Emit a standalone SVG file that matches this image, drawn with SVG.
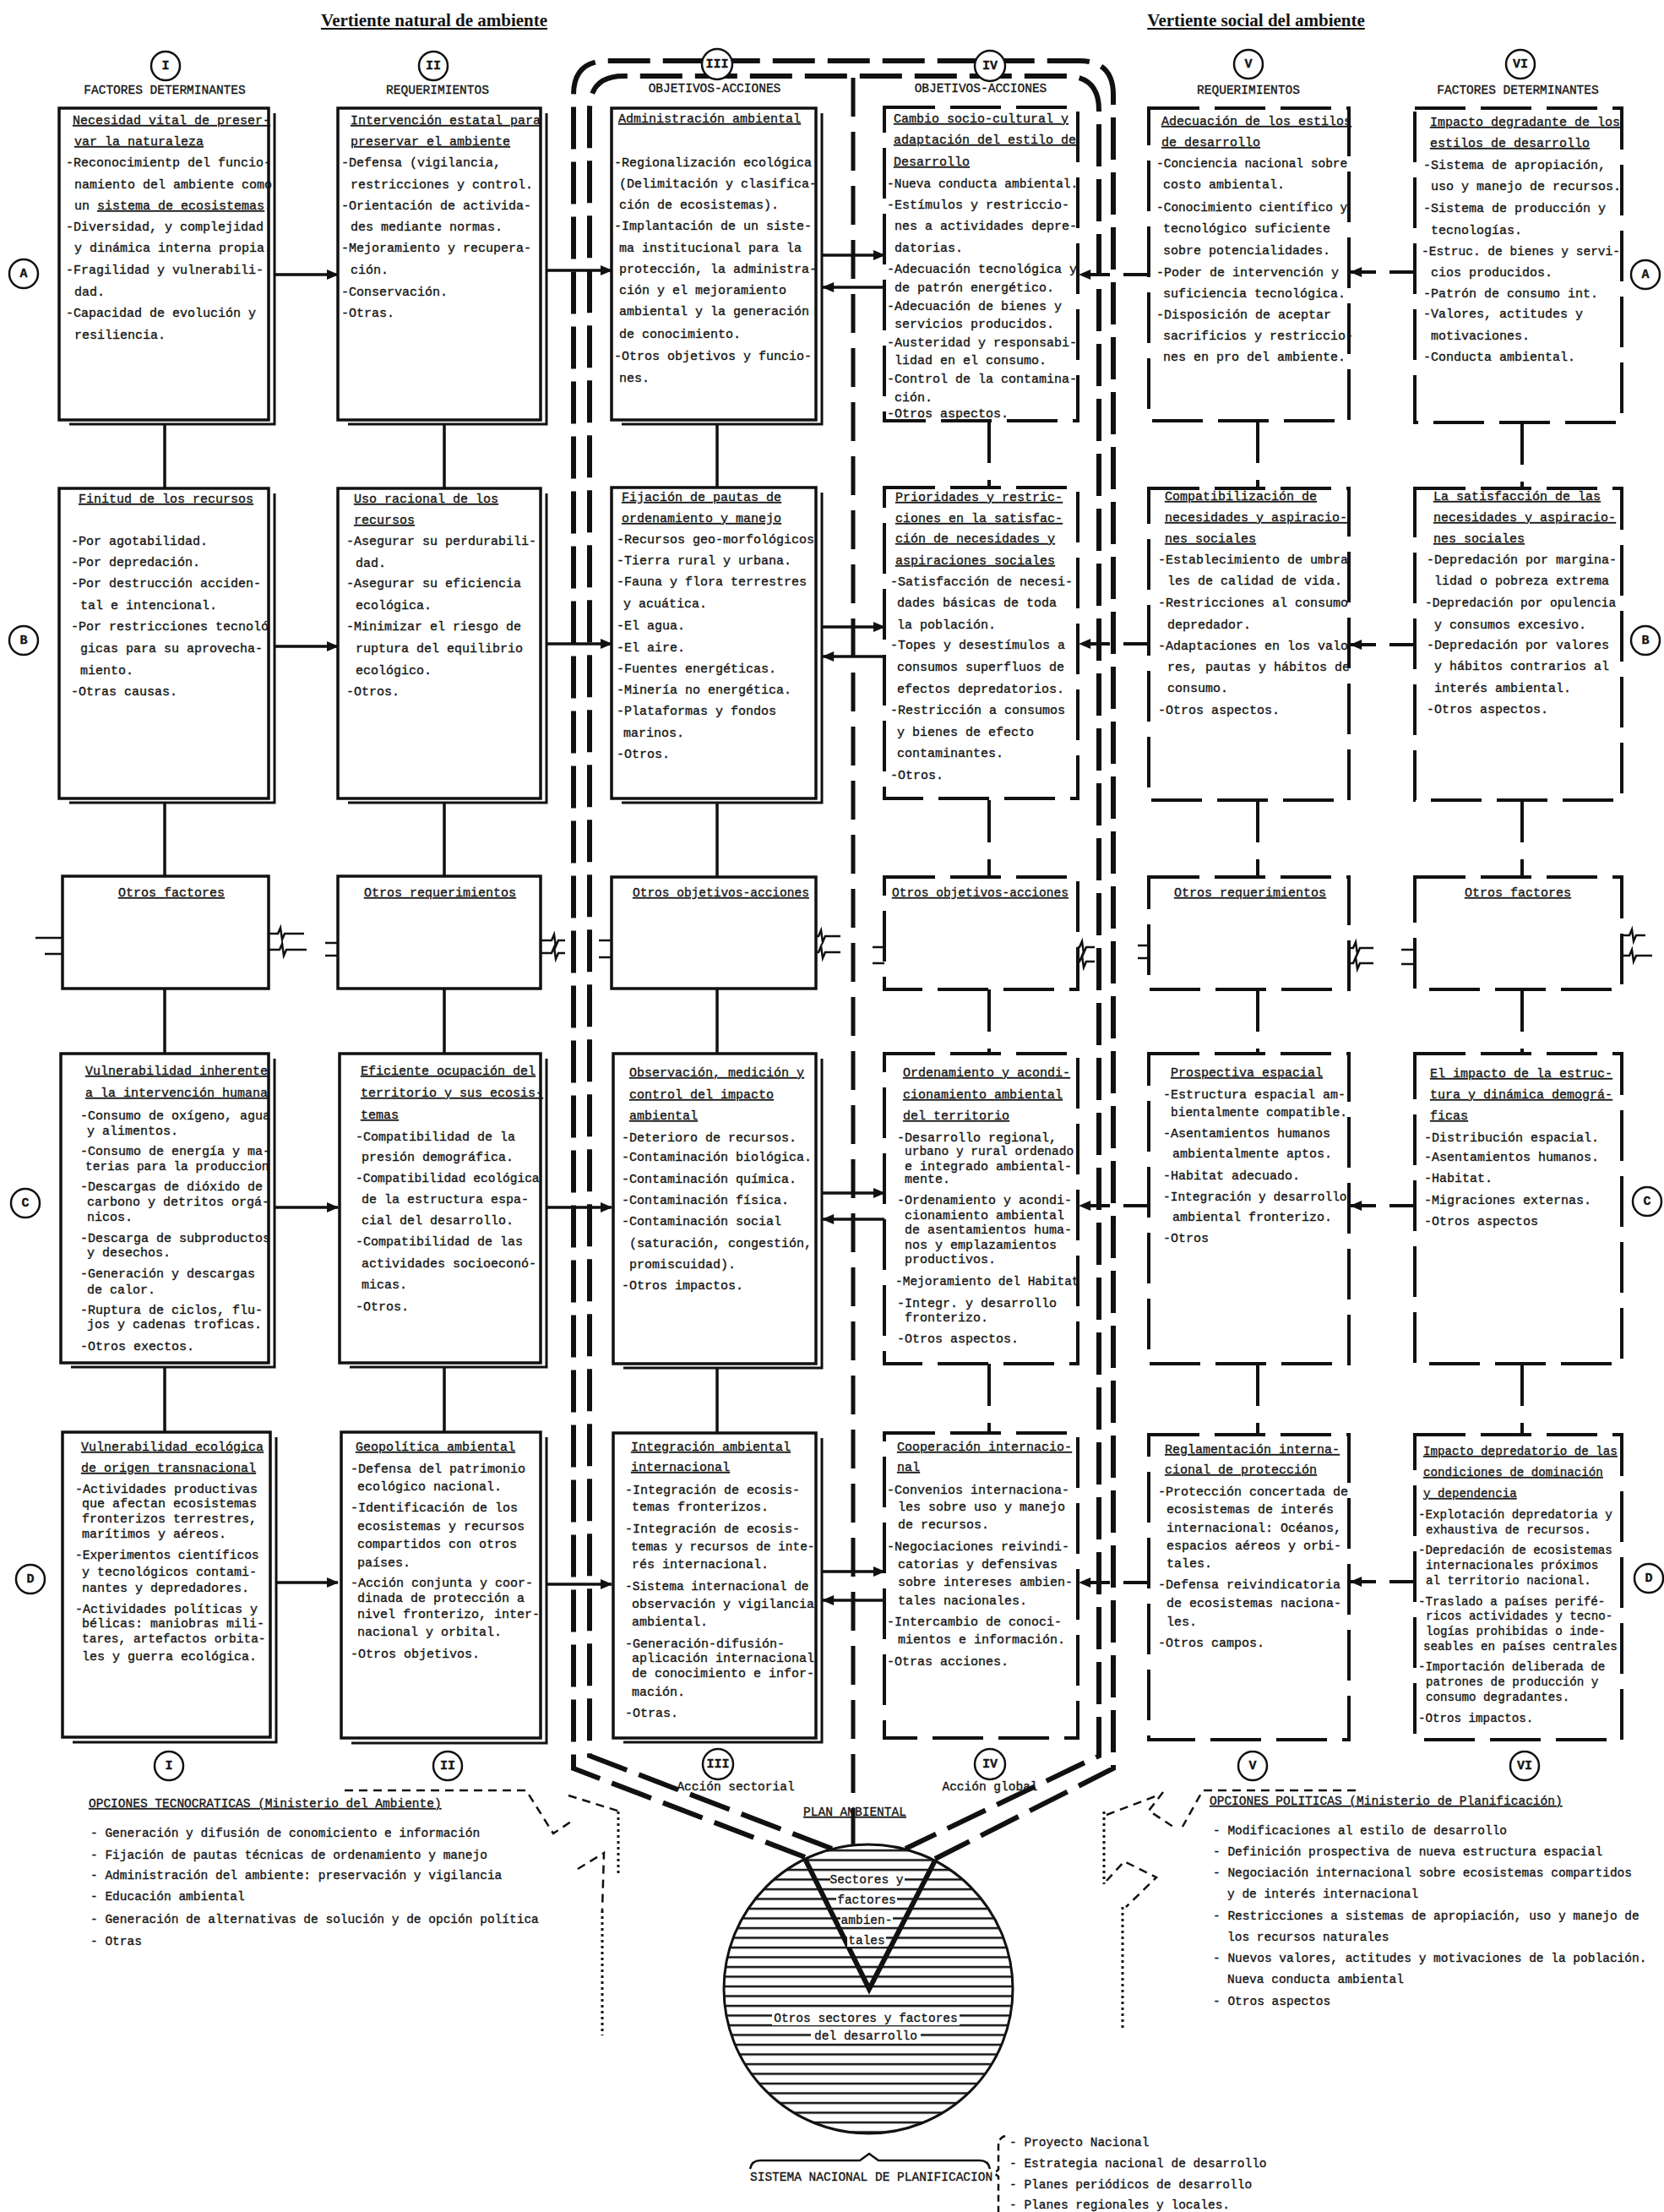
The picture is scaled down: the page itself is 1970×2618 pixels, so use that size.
<svg xmlns="http://www.w3.org/2000/svg" width="1970" height="2618" viewBox="0 0 1970 2618">
<style>
text{font-family:"Liberation Mono","DejaVu Sans Mono",monospace;font-size:15px;fill:#141414;stroke:#141414;stroke-width:0.35px}
.ttl{font-family:"Liberation Serif",serif;font-weight:bold;font-size:21px;text-anchor:middle;text-decoration:underline;text-decoration-thickness:2px;text-underline-offset:4px;stroke-width:0}
.u{text-decoration:underline;text-decoration-thickness:2px;text-underline-offset:3px}
.c{text-anchor:middle}
.s{font-size:14.2px}
.o{font-size:14.5px}
.rn{font-weight:bold;font-size:15px;text-anchor:middle;dominant-baseline:central}
.bx{fill:#fff;stroke:#111;stroke-width:3.5}
.bd{fill:#fff;stroke:#111;stroke-width:4;stroke-dasharray:60 18}
.sh{fill:none;stroke:#111;stroke-width:3}
.cir{fill:#fff;stroke:#111;stroke-width:2.5}
.ln{stroke:#111;stroke-width:3.5;fill:none}
.ld{stroke:#111;stroke-width:4;fill:none;stroke-dasharray:30 16}
.vd{stroke:#111;stroke-width:4;fill:none;stroke-dasharray:50 20}
.fr{stroke:#111;stroke-width:6;fill:none;stroke-dasharray:50 15}
.mid{stroke:#111;stroke-width:5;fill:none;stroke-dasharray:46 18}
.brk{stroke:#111;stroke-width:2.5;fill:none}
.opt{fill:none;stroke:#111;stroke-width:2.5;stroke-dasharray:10 7}
.dot{fill:none;stroke:#111;stroke-width:3;stroke-dasharray:3 4}
.wb{fill:#fff}
</style>
<defs>
<marker id="ar" viewBox="0 0 12 10" refX="11" refY="5" markerWidth="15" markerHeight="12" markerUnits="userSpaceOnUse" orient="auto"><path d="M0,0 L12,5 L0,10 z" fill="#111"/></marker>
<pattern id="hatch" patternUnits="userSpaceOnUse" width="20" height="11.5"><line x1="0" y1="5" x2="20" y2="5" stroke="#111" stroke-width="2.5"/></pattern>
</defs>
<rect width="1970" height="2618" fill="#fff"/>

<g id="titles">
<text class="ttl" x="514" y="31">Vertiente natural de ambiente</text>
<text class="ttl" x="1487" y="31">Vertiente social del ambiente</text>
</g>

<g id="connectors">
<path class="fr" d="M953,2198 L679,2093 V112 Q679,72 719,72 H1278 Q1318,72 1318,112 V2093 L1107,2200"/>
<path class="fr" d="M985,2188 L698,2078 V130 Q698,90 738,90 H1261 Q1301,90 1301,130 V2078 L1072,2188"/>
<path class="mid" d="M1010,92 V2184"/>
<path class="ln" d="M195,502 V578 M195,950 V1037 M195,1170 V1247 M195,1618 V1696"/>
<path class="ln" d="M526,502 V578 M526,950 V1037 M526,1170 V1247 M526,1618 V1696"/>
<path class="ln" d="M849,502 V578 M849,950 V1037 M849,1170 V1247 M849,1618 V1696"/>
<path class="vd" d="M1171,498 V577 M1171,947 V1038 M1171,1171 V1247 M1171,1614 V1698"/>
<path class="vd" d="M1489,498 V578 M1489,947 V1038 M1489,1171 V1247 M1489,1614 V1698"/>
<path class="vd" d="M1802,500 V578 M1802,947 V1038 M1802,1171 V1247 M1802,1614 V1698"/>
<line class="ln" x1="326" y1="325" x2="400" y2="325" marker-end="url(#ar)"/>
<line class="ln" x1="647" y1="320" x2="724" y2="320" marker-end="url(#ar)"/>
<line class="ln" x1="972" y1="302" x2="1047" y2="302" marker-end="url(#ar)"/>
<line class="ln" x1="1047" y1="340" x2="974" y2="340" marker-end="url(#ar)"/>
<line class="ld" x1="1360" y1="325" x2="1278" y2="325" marker-end="url(#ar)"/>
<line class="ld" x1="1675" y1="322" x2="1599" y2="322" marker-end="url(#ar)"/>
<line class="ln" x1="326" y1="765" x2="400" y2="765" marker-end="url(#ar)"/>
<line class="ln" x1="647" y1="762" x2="724" y2="762" marker-end="url(#ar)"/>
<line class="ln" x1="972" y1="742" x2="1047" y2="742" marker-end="url(#ar)"/>
<line class="ln" x1="1047" y1="777" x2="974" y2="777" marker-end="url(#ar)"/>
<line class="ld" x1="1360" y1="762" x2="1278" y2="762" marker-end="url(#ar)"/>
<line class="ld" x1="1675" y1="763" x2="1599" y2="763" marker-end="url(#ar)"/>
<line class="ln" x1="326" y1="1429" x2="400" y2="1429" marker-end="url(#ar)"/>
<line class="ln" x1="647" y1="1429" x2="724" y2="1429" marker-end="url(#ar)"/>
<line class="ln" x1="972" y1="1412" x2="1047" y2="1412" marker-end="url(#ar)"/>
<line class="ln" x1="1047" y1="1443" x2="974" y2="1443" marker-end="url(#ar)"/>
<line class="ld" x1="1360" y1="1427" x2="1278" y2="1427" marker-end="url(#ar)"/>
<line class="ld" x1="1675" y1="1427" x2="1599" y2="1427" marker-end="url(#ar)"/>
<line class="ln" x1="326" y1="1873" x2="400" y2="1873" marker-end="url(#ar)"/>
<line class="ln" x1="647" y1="1875" x2="724" y2="1875" marker-end="url(#ar)"/>
<line class="ln" x1="972" y1="1860" x2="1047" y2="1860" marker-end="url(#ar)"/>
<line class="ln" x1="1047" y1="1894" x2="974" y2="1894" marker-end="url(#ar)"/>
<line class="ld" x1="1360" y1="1873" x2="1278" y2="1873" marker-end="url(#ar)"/>
<line class="ld" x1="1675" y1="1872" x2="1599" y2="1872" marker-end="url(#ar)"/>
<path class="brk" d="M42,1110 H83 l3,-7 l2,14 l3,-7 H118 M53,1129 H85 l3,-7 l2,14 l3,-7 H112"/>
<path class="brk" d="M299,1105 H329 l3,-7 l2,14 l3,-7 H360 M303,1124 H331 l3,-7 l2,14 l3,-7 H363"/>
<path class="brk" d="M385,1116 H412 l3,-7 l2,14 l3,-7 H436 M385,1131 H412 l3,-7 l2,14 l3,-7 H436"/>
<path class="brk" d="M623,1113 H653 l3,-7 l2,14 l3,-7 H669 M623,1128 H653 l3,-7 l2,14 l3,-7 H669"/>
<path class="brk" d="M709,1113 H733 l3,-7 l2,14 l3,-7 H762 M709,1133 H733 l3,-7 l2,14 l3,-7 H762"/>
<path class="brk" d="M953,1108 H969 l3,-7 l2,14 l3,-7 H995 M953,1127 H969 l3,-7 l2,14 l3,-7 H995"/>
<path class="brk" d="M1033,1121 H1057 l3,-7 l2,14 l3,-7 H1081 M1033,1140 H1057 l3,-7 l2,14 l3,-7 H1081"/>
<path class="brk" d="M1262,1121 H1278 l3,-7 l2,14 l3,-7 H1296 M1262,1138 H1278 l3,-7 l2,14 l3,-7 H1296"/>
<path class="brk" d="M1347,1119 H1369 l3,-7 l2,14 l3,-7 H1392 M1347,1134 H1369 l3,-7 l2,14 l3,-7 H1392"/>
<path class="brk" d="M1579,1122 H1602 l3,-7 l2,14 l3,-7 H1626 M1579,1140 H1602 l3,-7 l2,14 l3,-7 H1626"/>
<path class="brk" d="M1659,1124 H1682 l3,-7 l2,14 l3,-7 H1704 M1659,1141 H1682 l3,-7 l2,14 l3,-7 H1704"/>
<path class="brk" d="M1903,1107 H1929 l3,-7 l2,14 l3,-7 H1948 M1908,1131 H1929 l3,-7 l2,14 l3,-7 H1956"/>
<path class="opt" d="M408,2119 H623 L655,2170 L676,2156"/>
<path class="opt" d="M673,2125 L734,2144"/>
<path class="dot" d="M732,2144 V2218"/>
<path class="opt" d="M684,2212 L715,2193 L713,2261"/>
<path class="dot" d="M713,2261 V2409"/>
<path class="opt" d="M1605,2119 H1424 L1400,2162"/>
<path class="opt" d="M1377,2121 L1360,2143 L1392,2164"/>
<path class="opt" d="M1310,2148 L1373,2124"/>
<path class="opt" d="M1310,2226 L1331,2203 L1369,2222 L1333,2257"/>
<path class="dot" d="M1307,2144 V2230"/>
<path class="dot" d="M1329,2257 V2400"/>
<path class="brk" d="M888,2567 Q890,2557 900,2557 H1018 L1029,2549 L1040,2557 H1160 Q1170,2557 1172,2567"/>
<path class="opt" d="M1190,2528 Q1182,2530 1182,2540 V2568 L1177,2572 L1182,2576 V2618" style="stroke-dasharray:8 5"/>
</g>

<g id="labels">
<circle class="cir" cx="196" cy="78" r="17"/><text class="rn" x="196" y="78">I</text>
<circle class="cir" cx="513" cy="78" r="17"/><text class="rn" x="513" y="78">II</text>
<circle class="cir" cx="849" cy="76" r="18"/><text class="rn" x="849" y="76">III</text>
<circle class="cir" cx="1172" cy="78" r="18"/><text class="rn" x="1172" y="78">IV</text>
<circle class="cir" cx="1478" cy="76" r="17"/><text class="rn" x="1478" y="76">V</text>
<circle class="cir" cx="1800" cy="76" r="17"/><text class="rn" x="1800" y="76">VI</text>
<text class="c o" x="195" y="111">FACTORES DETERMINANTES</text>
<text class="c o" x="518" y="111">REQUERIMIENTOS</text>
<text class="c o" x="846" y="109">OBJETIVOS-ACCIONES</text>
<text class="c o" x="1161" y="109">OBJETIVOS-ACCIONES</text>
<text class="c o" x="1478" y="111">REQUERIMIENTOS</text>
<text class="c o" x="1797" y="111">FACTORES DETERMINANTES</text>
<circle class="cir" cx="28" cy="324" r="17"/><text class="rn" x="28" y="324">A</text>
<circle class="cir" cx="28" cy="758" r="17"/><text class="rn" x="28" y="758">B</text>
<circle class="cir" cx="30" cy="1424" r="17"/><text class="rn" x="30" y="1424">C</text>
<circle class="cir" cx="36" cy="1869" r="17"/><text class="rn" x="36" y="1869">D</text>
<circle class="cir" cx="1948" cy="325" r="17"/><text class="rn" x="1948" y="325">A</text>
<circle class="cir" cx="1948" cy="758" r="17"/><text class="rn" x="1948" y="758">B</text>
<circle class="cir" cx="1950" cy="1422" r="17"/><text class="rn" x="1950" y="1422">C</text>
<circle class="cir" cx="1952" cy="1868" r="17"/><text class="rn" x="1952" y="1868">D</text>
<circle class="cir" cx="200" cy="2090" r="17"/><text class="rn" x="200" y="2090">I</text>
<circle class="cir" cx="530" cy="2090" r="17"/><text class="rn" x="530" y="2090">II</text>
<circle class="cir" cx="850" cy="2088" r="18"/><text class="rn" x="850" y="2088">III</text>
<circle class="cir" cx="1172" cy="2088" r="18"/><text class="rn" x="1172" y="2088">IV</text>
<circle class="cir" cx="1483" cy="2090" r="17"/><text class="rn" x="1483" y="2090">V</text>
<circle class="cir" cx="1805" cy="2090" r="17"/><text class="rn" x="1805" y="2090">VI</text>
<text class="c o" x="871" y="2119">Acción sectorial</text>
<text class="c o" x="1172" y="2119">Acción global</text>
<text class="c u o" x="1012" y="2149">PLAN AMBIENTAL</text>
</g>

<g id="n-I-A">
<rect class="bx" x="70" y="128" width="248" height="369"/><path class="sh" d="M325,134 V502 H82"/>
<text x="86" y="147" class="u">Necesidad vital de preser-</text>
<text x="88" y="172" class="u">var la naturaleza</text>
<text x="78" y="197">-Reconocimientp del funcio-</text>
<text x="88" y="223">namiento del ambiente como</text>
<text x="88" y="248">un <tspan class="u">sistema de ecosistemas</tspan>.</text>
<text x="78" y="273">-Diversidad, y complejidad</text>
<text x="88" y="298">y dinámica interna propia.</text>
<text x="78" y="324">-Fragilidad y vulnerabili-</text>
<text x="88" y="350">dad.</text>
<text x="78" y="375">-Capacidad de evolución y</text>
<text x="88" y="401">resiliencia.</text>
</g>
<g id="n-II-A">
<rect class="bx" x="400" y="128" width="240" height="369"/><path class="sh" d="M647,134 V502 H412"/>
<text x="415" y="147" class="u">Intervención estatal para</text>
<text x="415" y="172" class="u">preservar el ambiente</text>
<text x="404" y="197">-Defensa (vigilancia,</text>
<text x="415" y="223">restricciones y control.</text>
<text x="404" y="248">-Orientación de activida-</text>
<text x="415" y="273">des mediante normas.</text>
<text x="404" y="298">-Mejoramiento y recupera-</text>
<text x="415" y="324">ción.</text>
<text x="404" y="350">-Conservación.</text>
<text x="404" y="375">-Otras.</text>
</g>
<g id="n-III-A">
<rect class="bx" x="724" y="128" width="242" height="369"/><path class="sh" d="M973,134 V502 H736"/>
<text x="732" y="145" class="u">Administración ambiental</text>
<text x="727" y="197">-Regionalización ecológica</text>
<text x="733" y="222">(Delimitación y clasifica-</text>
<text x="733" y="247">ción de ecosistemas).</text>
<text x="727" y="272">-Implantación de un siste-</text>
<text x="733" y="298">ma institucional para la</text>
<text x="733" y="323">protección, la administra-</text>
<text x="733" y="348">ción y el mejoramiento</text>
<text x="733" y="373">ambiental y la generación</text>
<text x="733" y="400">de conocimiento.</text>
<text x="727" y="426">-Otros objetivos y funcio-</text>
<text x="733" y="452">nes.</text>
</g>
<g id="n-IV-A">
<rect class="bd" x="1047" y="127" width="229" height="371"/>
<text x="1058" y="145" class="u">Cambio socio-cultural y</text>
<text x="1058" y="170" class="u">adaptación del estilo de</text>
<text x="1058" y="196" class="u">Desarrollo</text>
<text class="o" x="1050" y="222">-Nueva conducta ambiental.</text>
<text x="1050" y="247">-Estímulos y restriccio-</text>
<text x="1059" y="272">nes a actividades depre-</text>
<text x="1059" y="298">datorias.</text>
<text x="1050" y="323">-Adecuación tecnológica y</text>
<text x="1059" y="345">de patrón energético.</text>
<text x="1050" y="367">-Adecuación de bienes y</text>
<text x="1059" y="388">servicios producidos.</text>
<text x="1050" y="410">-Austeridad y responsabi-</text>
<text x="1059" y="431">lidad en el consumo.</text>
<text x="1050" y="453">-Control de la contamina-</text>
<text x="1059" y="475">ción.</text>
<text x="1050" y="494">-Otros aspectos.</text>
</g>
<g id="n-V-A">
<rect class="bd" x="1360" y="128" width="237" height="370"/>
<text x="1375" y="148" class="u">Adecuación de los estilos</text>
<text x="1375" y="173" class="u">de desarrollo</text>
<text class="o" x="1369" y="198">-Conciencia nacional sobre</text>
<text x="1377" y="223">costo ambiental.</text>
<text class="o" x="1369" y="250">-Conocimiento científico y</text>
<text x="1377" y="275">tecnológico suficiente</text>
<text x="1377" y="301">sobre potencialidades.</text>
<text x="1369" y="327">-Poder de intervención y</text>
<text x="1377" y="352">suficiencia tecnológica.</text>
<text x="1369" y="377">-Disposición de aceptar</text>
<text x="1377" y="402">sacrificios y restriccio-</text>
<text x="1377" y="427">nes en pro del ambiente.</text>
</g>
<g id="n-VI-A">
<rect class="bd" x="1675" y="128" width="245" height="372"/>
<text x="1693" y="149" class="u">Impacto degradante de los</text>
<text x="1693" y="174" class="u">estilos de desarrollo</text>
<text x="1685" y="200">-Sistema de apropiación,</text>
<text x="1694" y="225">uso y manejo de recursos.</text>
<text x="1685" y="251">-Sistema de producción y</text>
<text x="1694" y="277">tecnologías.</text>
<text class="o" x="1683" y="302">-Estruc. de bienes y servi-</text>
<text x="1694" y="327">cios producidos.</text>
<text x="1685" y="352">-Patrón de consumo int.</text>
<text x="1685" y="376">-Valores, actitudes y</text>
<text x="1694" y="402">motivaciones.</text>
<text x="1685" y="427">-Conducta ambiental.</text>
</g>

<g id="n-I-B">
<rect class="bx" x="70" y="578" width="248" height="367"/><path class="sh" d="M325,584 V950 H82"/>
<text x="93" y="595" class="u">Finitud de los recursos</text>
<text x="84" y="645">-Por agotabilidad.</text>
<text x="84" y="670">-Por depredación.</text>
<text x="84" y="695">-Por destrucción acciden-</text>
<text x="95" y="721">tal e intencional.</text>
<text x="84" y="746">-Por restricciones tecnoló</text>
<text x="95" y="772">gicas para su aprovecha-</text>
<text x="95" y="798">miento.</text>
<text x="84" y="823">-Otras causas.</text>
</g>
<g id="n-II-B">
<rect class="bx" x="400" y="578" width="240" height="367"/><path class="sh" d="M647,584 V950 H412"/>
<text x="419" y="595" class="u">Uso racional de los</text>
<text x="419" y="620" class="u">recursos</text>
<text x="410" y="645">-Asegurar su perdurabili-</text>
<text x="421" y="671">dad.</text>
<text x="410" y="695">-Asegurar su eficiencia</text>
<text x="421" y="721">ecológica.</text>
<text x="410" y="746">-Minimizar el riesgo de</text>
<text x="421" y="772">ruptura del equilibrio</text>
<text x="421" y="798">ecológico.</text>
<text x="410" y="823">-Otros.</text>
</g>
<g id="n-III-B">
<rect class="bx" x="724" y="577" width="242" height="368"/><path class="sh" d="M973,583 V950 H736"/>
<text x="736" y="593" class="u">Fijación de pautas de</text>
<text x="736" y="618" class="u">ordenamiento y manejo</text>
<text x="730" y="643">-Recursos geo-morfológicos</text>
<text x="730" y="668">-Tierra rural y urbana.</text>
<text x="730" y="693">-Fauna y flora terrestres</text>
<text x="738" y="719">y acuática.</text>
<text x="730" y="745">-El agua.</text>
<text x="730" y="771">-El aire.</text>
<text x="730" y="796">-Fuentes energéticas.</text>
<text x="730" y="821">-Minería no energética.</text>
<text x="730" y="846">-Plataformas y fondos</text>
<text x="738" y="872">marinos.</text>
<text x="730" y="897">-Otros.</text>
</g>
<g id="n-IV-B">
<rect class="bd" x="1047" y="577" width="229" height="368"/>
<text x="1060" y="593" class="u">Prioridades y restric-</text>
<text x="1060" y="618" class="u">ciones en la satisfac-</text>
<text x="1060" y="642" class="u">ción de necesidades y</text>
<text x="1060" y="668" class="u">aspiraciones sociales</text>
<text x="1054" y="693">-Satisfacción de necesi-</text>
<text x="1062" y="718">dades básicas de toda</text>
<text x="1062" y="744">la población.</text>
<text x="1054" y="768">-Topes y desestímulos a</text>
<text x="1062" y="794">consumos superfluos de</text>
<text x="1062" y="820">efectos depredatorios.</text>
<text x="1054" y="845">-Restricción a consumos</text>
<text x="1062" y="871">y bienes de efecto</text>
<text x="1062" y="896">contaminantes.</text>
<text x="1054" y="922">-Otros.</text>
</g>
<g id="n-V-B">
<rect class="bd" x="1360" y="578" width="237" height="369"/>
<text x="1379" y="592" class="u">Compatibilización de</text>
<text x="1379" y="617" class="u">necesidades y aspiracio-</text>
<text x="1379" y="642" class="u">nes sociales</text>
<text x="1371" y="667">-Establecimiento de umbra</text>
<text x="1382" y="692">les de calidad de vida.</text>
<text x="1371" y="718">-Restricciones al consumo</text>
<text x="1382" y="744">depredador.</text>
<text x="1371" y="769">-Adaptaciones en los valo</text>
<text x="1382" y="794">res, pautas y hábitos de</text>
<text x="1382" y="819">consumo.</text>
<text x="1371" y="845">-Otros aspectos.</text>
</g>
<g id="n-VI-B">
<rect class="bd" x="1675" y="578" width="245" height="369"/>
<text x="1697" y="592" class="u">La satisfacción de las</text>
<text x="1697" y="617" class="u">necesidades y aspiracio-</text>
<text x="1697" y="642" class="u">nes sociales</text>
<text x="1689" y="667">-Depredación por margina-</text>
<text x="1698" y="692">lidad o pobreza extrema</text>
<text class="o" x="1687" y="718">-Depredación por opulencia</text>
<text x="1698" y="744">y consumos excesivo.</text>
<text x="1689" y="768">-Depredación por valores</text>
<text x="1698" y="793">y hábitos contrarios al</text>
<text x="1698" y="819">interés ambiental.</text>
<text x="1689" y="844">-Otros aspectos.</text>
</g>

<g id="n-I-O"><rect class="bx" x="74" y="1037" width="244" height="133"/><text class="c u" x="203" y="1061">Otros factores</text></g>
<g id="n-II-O"><rect class="bx" x="400" y="1037" width="240" height="133"/><text class="c u" x="521" y="1061">Otros requerimientos</text></g>
<g id="n-III-O"><rect class="bx" x="724" y="1038" width="242" height="132"/><text class="u o" x="749" y="1061">Otros objetivos-acciones</text></g>
<g id="n-IV-O"><rect class="bd" x="1047" y="1038" width="229" height="133"/><text class="u o" x="1056" y="1061">Otros objetivos-acciones</text></g>
<g id="n-V-O"><rect class="bd" x="1360" y="1038" width="237" height="133"/><text class="c u" x="1480" y="1061">Otros requerimientos</text></g>
<g id="n-VI-O"><rect class="bd" x="1675" y="1038" width="245" height="133"/><text class="c u" x="1797" y="1061">Otros factores</text></g>

<g id="n-I-C">
<rect class="bx" x="72" y="1247" width="246" height="366"/><path class="sh" d="M325,1253 V1618 H84"/>
<text x="101" y="1272" class="u">Vulnerabilidad inherente</text>
<text x="101" y="1298" class="u">a la intervención humana</text>
<text x="95" y="1325">-Consumo de oxígeno, agua</text>
<text x="103" y="1343">y alimentos.</text>
<text x="95" y="1367">-Consumo de energía y ma-</text>
<text class="o" x="101" y="1385">terias para la produccion</text>
<text x="95" y="1409">-Descargas de dióxido de</text>
<text x="103" y="1427">carbono y detritos orgá-</text>
<text x="103" y="1445">nicos.</text>
<text x="95" y="1470">-Descarga de subproductos</text>
<text x="103" y="1487">y desechos.</text>
<text x="95" y="1512">-Generación y descargas</text>
<text x="103" y="1531">de calor.</text>
<text x="95" y="1555">-Ruptura de ciclos, flu-</text>
<text x="103" y="1572">jos y cadenas troficas.</text>
<text x="95" y="1598">-Otros exectos.</text>
</g>
<g id="n-II-C">
<rect class="bx" x="402" y="1247" width="238" height="366"/><path class="sh" d="M647,1253 V1618 H414"/>
<text x="427" y="1272" class="u">Eficiente ocupación del</text>
<text x="427" y="1298" class="u">territorio y sus ecosis-</text>
<text x="427" y="1324" class="u">temas</text>
<text x="421" y="1350">-Compatibilidad de la</text>
<text x="428" y="1374">presión demográfica.</text>
<text class="o" x="421" y="1399">-Compatibilidad ecológica</text>
<text x="428" y="1424">de la estructura espa-</text>
<text x="428" y="1449">cial del desarrollo.</text>
<text x="421" y="1474">-Compatibilidad de las</text>
<text x="428" y="1500">actividades socioeconó-</text>
<text x="428" y="1525">micas.</text>
<text x="421" y="1551">-Otros.</text>
</g>
<g id="n-III-C">
<rect class="bx" x="726" y="1247" width="240" height="367"/><path class="sh" d="M973,1253 V1619 H738"/>
<text x="745" y="1274" class="u">Observación, medición y</text>
<text x="745" y="1300" class="u">control del impacto</text>
<text x="745" y="1325" class="u">ambiental</text>
<text x="736" y="1351">-Deterioro de recursos.</text>
<text x="736" y="1374">-Contaminación biológica.</text>
<text x="736" y="1400">-Contaminación química.</text>
<text x="736" y="1425">-Contaminación física.</text>
<text x="736" y="1450">-Contaminación social</text>
<text x="745" y="1476">(saturación, congestión,</text>
<text x="745" y="1501">promiscuidad).</text>
<text x="736" y="1526">-Otros impactos.</text>
</g>
<g id="n-IV-C">
<rect class="bd" x="1047" y="1247" width="229" height="367"/>
<text x="1069" y="1274" class="u">Ordenamiento y acondi-</text>
<text x="1069" y="1300" class="u">cionamiento ambiental</text>
<text x="1069" y="1325" class="u">del territorio</text>
<text x="1062" y="1351">-Desarrollo regional,</text>
<text class="o" x="1071" y="1367">urbano y rural ordenado</text>
<text x="1071" y="1385">e integrado ambiental-</text>
<text x="1071" y="1400">mente.</text>
<text x="1062" y="1425">-Ordenamiento y acondi-</text>
<text x="1071" y="1443">cionamiento ambiental</text>
<text x="1071" y="1460">de asentamientos huma-</text>
<text x="1071" y="1478">nos y emplazamientos</text>
<text x="1071" y="1495">productivos.</text>
<text class="o" x="1060" y="1521">-Mejoramiento del Habitat</text>
<text x="1062" y="1547">-Integr. y desarrollo</text>
<text x="1071" y="1564">fronterizo.</text>
<text x="1062" y="1589">-Otros aspectos.</text>
</g>
<g id="n-V-C">
<rect class="bd" x="1360" y="1247" width="237" height="367"/>
<text x="1386" y="1274" class="u">Prospectiva espacial</text>
<text x="1377" y="1300">-Estructura espacial am-</text>
<text class="o" x="1386" y="1321">bientalmente compatible.</text>
<text x="1377" y="1346">-Asentamientos humanos</text>
<text x="1388" y="1370">ambientalmente aptos.</text>
<text x="1377" y="1396">-Habitat adecuado.</text>
<text class="o" x="1377" y="1421">-Integración y desarrollo</text>
<text x="1388" y="1445">ambiental fronterizo.</text>
<text x="1377" y="1470">-Otros</text>
</g>
<g id="n-VI-C">
<rect class="bd" x="1675" y="1247" width="245" height="367"/>
<text x="1693" y="1275" class="u">El impacto de la estruc-</text>
<text x="1693" y="1300" class="u">tura y dinámica demográ-</text>
<text x="1693" y="1325" class="u">ficas</text>
<text x="1686" y="1351">-Distribución espacial.</text>
<text x="1686" y="1374">-Asentamientos humanos.</text>
<text x="1686" y="1399">-Habitat.</text>
<text x="1686" y="1425">-Migraciones externas.</text>
<text x="1686" y="1450">-Otros aspectos</text>
</g>

<g id="n-I-D">
<rect class="bx" x="74" y="1695" width="246" height="361"/><path class="sh" d="M327,1701 V2062 H86"/>
<text x="96" y="1717" class="u">Vulnerabilidad ecológica</text>
<text x="96" y="1742" class="u">de origen transnacional</text>
<text x="89" y="1767">-Actividades productivas</text>
<text x="97" y="1784">que afectan ecosistemas</text>
<text x="97" y="1802">fronterizos terrestres,</text>
<text x="97" y="1820">marítimos y aéreos.</text>
<text class="o" x="89" y="1845">-Experimentos científicos</text>
<text x="97" y="1865">y tecnológicos contami-</text>
<text x="97" y="1884">nantes y depredadores.</text>
<text x="89" y="1909">-Actividades políticas y</text>
<text x="97" y="1926">bélicas: maniobras mili-</text>
<text class="o" x="97" y="1944">tares, artefactos orbita-</text>
<text x="97" y="1965">les y guerra ecológica.</text>
</g>
<g id="n-II-D">
<rect class="bx" x="404" y="1695" width="236" height="362"/><path class="sh" d="M647,1701 V2063 H416"/>
<text x="421" y="1717" class="u">Geopolítica ambiental</text>
<text x="415" y="1743">-Defensa del patrimonio</text>
<text x="423" y="1764">ecológico nacional.</text>
<text x="415" y="1789">-Identificación de los</text>
<text x="423" y="1811">ecosistemas y recursos</text>
<text x="423" y="1832">compartidos con otros</text>
<text x="423" y="1854">países.</text>
<text x="415" y="1878">-Acción conjunta y coor-</text>
<text x="423" y="1896">dinada de protección a</text>
<text x="423" y="1915">nivel fronterizo, inter-</text>
<text x="423" y="1936">nacional y orbital.</text>
<text x="415" y="1962">-Otros objetivos.</text>
</g>
<g id="n-III-D">
<rect class="bx" x="726" y="1696" width="240" height="361"/><path class="sh" d="M973,1702 V2062 H738"/>
<text x="747" y="1717" class="u">Integración ambiental</text>
<text x="747" y="1741" class="u">internacional</text>
<text x="740" y="1768">-Integración de ecosis-</text>
<text x="748" y="1788">temas fronterizos.</text>
<text x="740" y="1814">-Integración de ecosis-</text>
<text class="o" x="747" y="1835">temas y recursos de inte-</text>
<text x="748" y="1856">rés internacional.</text>
<text class="o" x="740" y="1882">-Sistema internacional de</text>
<text x="748" y="1903">observación y vigilancia</text>
<text x="748" y="1924">ambiental.</text>
<text x="740" y="1950">-Generación-difusión-</text>
<text x="748" y="1967">aplicación internacional</text>
<text x="748" y="1985">de conocimiento e infor-</text>
<text x="748" y="2007">mación.</text>
<text x="740" y="2032">-Otras.</text>
</g>
<g id="n-IV-D">
<rect class="bd" x="1047" y="1696" width="229" height="361"/>
<text x="1062" y="1717" class="u">Cooperación internacio-</text>
<text x="1062" y="1741" class="u">nal</text>
<text x="1050" y="1768">-Convenios internaciona-</text>
<text x="1063" y="1788">les sobre uso y manejo</text>
<text x="1063" y="1809">de recursos.</text>
<text x="1050" y="1835">-Negociaciones reivindi-</text>
<text x="1063" y="1856">catorias y defensivas</text>
<text x="1063" y="1877">sobre intereses ambien-</text>
<text x="1063" y="1899">tales nacionales.</text>
<text x="1050" y="1924">-Intercambio de conoci-</text>
<text x="1063" y="1945">mientos e información.</text>
<text x="1050" y="1971">-Otras acciones.</text>
</g>
<g id="n-V-D">
<rect class="bd" x="1360" y="1698" width="237" height="361"/>
<text x="1379" y="1720" class="u">Reglamentación interna-</text>
<text x="1379" y="1744" class="u">cional de protección</text>
<text x="1371" y="1770">-Protección concertada de</text>
<text x="1381" y="1791">ecosistemas de interés</text>
<text x="1381" y="1813">internacional: Océanos,</text>
<text x="1381" y="1834">espacios aéreos y orbi-</text>
<text x="1381" y="1855">tales.</text>
<text x="1371" y="1880">-Defensa reivindicatoria</text>
<text x="1381" y="1902">de ecosistemas naciona-</text>
<text x="1381" y="1924">les.</text>
<text x="1371" y="1949">-Otros campos.</text>
</g>
<g id="n-VI-D">
<rect class="bd" x="1675" y="1698" width="245" height="361"/>
<text class="s u" x="1685" y="1722">Impacto depredatorio de las</text>
<text class="s u" x="1685" y="1747">condiciones de dominación</text>
<text class="s u" x="1685" y="1772">y dependencia</text>
<text class="s" x="1679" y="1797">-Explotación depredatoria y</text>
<text class="s" x="1688" y="1815">exhaustiva de recursos.</text>
<text class="s" x="1679" y="1839">-Depredación de ecosistemas</text>
<text class="s" x="1688" y="1857">internacionales próximos</text>
<text class="s" x="1688" y="1875">al territorio nacional.</text>
<text class="s" x="1679" y="1900">-Traslado a países perifé-</text>
<text class="s" x="1688" y="1917">ricos actividades y tecno-</text>
<text class="s" x="1688" y="1935">logías prohibidas o inde-</text>
<text class="s" x="1685" y="1953">seables en países centrales</text>
<text class="s" x="1679" y="1977">-Importación deliberada de</text>
<text class="s" x="1688" y="1995">patrones de producción y</text>
<text class="s" x="1688" y="2013">consumo degradantes.</text>
<text class="s" x="1679" y="2038">-Otros impactos.</text>
</g>

<g id="n-opc-tec">
<text x="105" y="2139" class="o u">OPCIONES TECNOCRATICAS (Ministerio del Ambiente)</text>
<text class="o" x="107" y="2174">- Generación y difusión de conomiciento e información</text>
<text class="o" x="107" y="2200">- Fijación de pautas técnicas de ordenamiento y manejo</text>
<text class="o" x="107" y="2224">- Administración del ambiente: preservación y vigilancia</text>
<text class="o" x="107" y="2249">- Educación ambiental</text>
<text class="o" x="107" y="2276">- Generación de alternativas de solución y de opción política</text>
<text class="o" x="107" y="2302">- Otras</text>
</g>
<g id="n-opc-pol">
<text x="1432" y="2136" class="o u">OPCIONES POLITICAS (Ministerio de Planificación)</text>
<text class="o" x="1436" y="2171">- Modificaciones al estilo de desarrollo</text>
<text class="o" x="1436" y="2196">- Definición prospectiva de nueva estructura espacial</text>
<text class="o" x="1436" y="2221">- Negociación internacional sobre ecosistemas compartidos</text>
<text class="o" x="1453" y="2246">y de interés internacional</text>
<text class="o" x="1436" y="2272">- Restricciones a sistemas de apropiación, uso y manejo de</text>
<text class="o" x="1453" y="2297">los recursos naturales</text>
<text class="o" x="1436" y="2322">- Nuevos valores, actitudes y motivaciones de la población.</text>
<text class="o" x="1453" y="2347">Nueva conducta ambiental</text>
<text class="o" x="1436" y="2373">- Otros aspectos</text>
</g>

<g id="n-plan">
<circle cx="1028" cy="2354" r="171" fill="url(#hatch)" stroke="#111" stroke-width="3"/>
<path d="M953,2200 L1029,2354 L1107,2202" fill="none" stroke="#111" stroke-width="6"/>
<rect class="wb" x="983" y="2216" width="88" height="16"/>
<rect class="wb" x="990" y="2240" width="72" height="16"/>
<rect class="wb" x="995" y="2264" width="62" height="16"/>
<rect class="wb" x="1003" y="2288" width="46" height="16"/>
<text class="c o" x="1026" y="2229">Sectores y</text>
<text class="c o" x="1026" y="2253">factores</text>
<text class="c o" x="1026" y="2277">ambien-</text>
<text class="c o" x="1026" y="2301">tales</text>
<rect class="wb" x="914" y="2380" width="222" height="17"/>
<rect class="wb" x="960" y="2401" width="130" height="17"/>
<text class="c o" x="1025" y="2393">Otros sectores y factores</text>
<text class="c o" x="1025" y="2414">del desarrollo</text>
</g>
<g id="n-sistema">
<text class="o" x="888" y="2581">SISTEMA NACIONAL DE PLANIFICACION</text>
<text class="o" x="1195" y="2540">- Proyecto Nacional</text>
<text class="o" x="1195" y="2565">- Estrategia nacional de desarrollo</text>
<text class="o" x="1195" y="2590">- Planes periódicos de desarrollo</text>
<text class="o" x="1195" y="2614">- Planes regionales y locales.</text>
</g>
</svg>
